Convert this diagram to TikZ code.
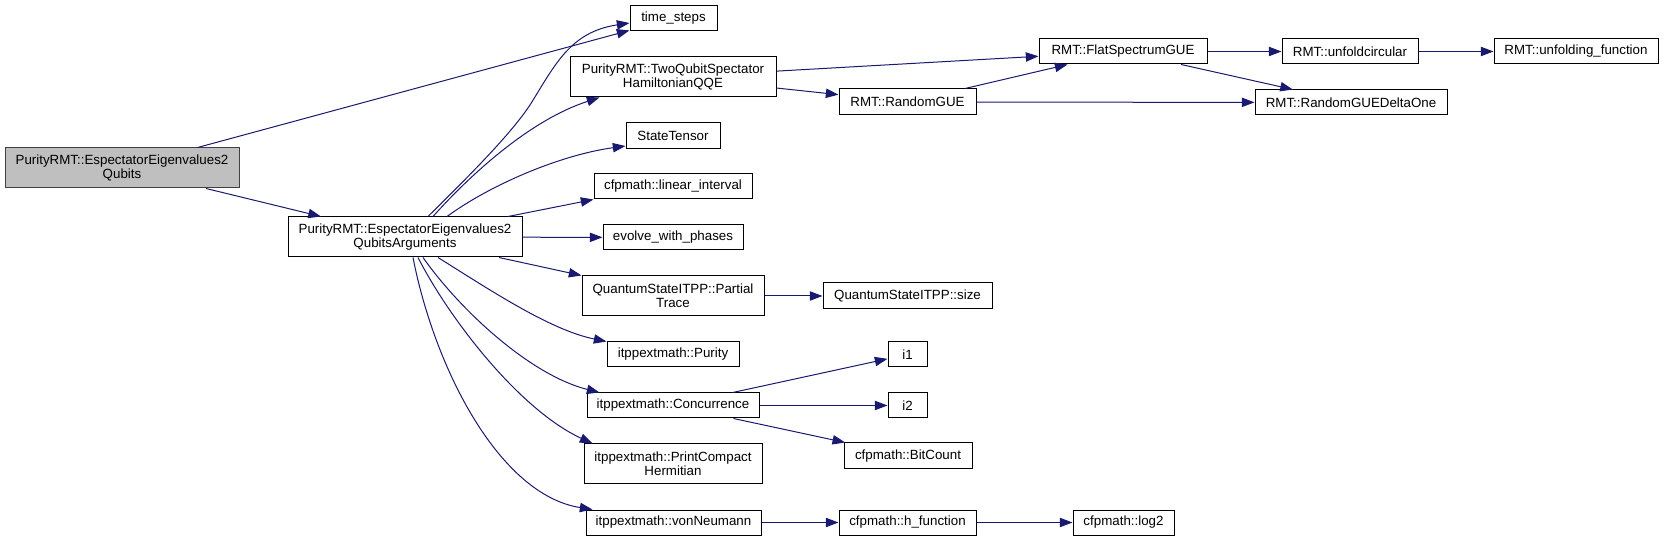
\documentclass[tikz,border=0pt]{standalone}
\usepackage{fontspec}
\setmainfont{Liberation Sans}
\usetikzlibrary{arrows.meta,calc}
\definecolor{edgeblue}{HTML}{191970}
\definecolor{rootfill}{HTML}{BFBFBF}
\definecolor{rootline}{HTML}{404040}
\tikzset{
  box/.style n args={4}{draw=black, line width=0.75pt, fill=white, inner sep=0pt,
    align=center, font=\fontsize{10}{10.7}\selectfont,
    minimum width={(#2-#1)*0.75pt}, minimum height={(#4-#3)*0.75pt},
    at={({(#1+#2)/2},{(#3+#4)/2})}},
  rootbox/.style={fill=rootfill, draw=rootline},
  edge/.style={draw=edgeblue, line width=0.75pt,
    -{Triangle[length=9.5pt,width=7pt,fill=edgeblue]}}
}
\begin{document}
\begin{tikzpicture}[x=0.75pt,y=-0.75pt]
\useasboundingbox (0,0) rectangle (1664,541);
% nodes
\node[box={5}{239}{148}{188},rootbox] (root) {PurityRMT::EspectatorEigenvalues2\\Qubits};
\node[box={288}{522}{217}{257}] (args) {PurityRMT::EspectatorEigenvalues2\\QubitsArguments};
\node[box={630}{717}{6}{31}] (time) {time\_steps};
\node[box={570}{776}{57}{97}] (tq) {PurityRMT::TwoQubitSpectator\\HamiltonianQQE};
\node[box={626}{720}{123}{149}] (st) {StateTensor};
\node[box={594}{752}{174}{199}] (lin) {cfpmath::linear\_interval};
\node[box={603}{743}{225}{250}] (evo) {evolve\_with\_phases};
\node[box={582}{764}{276}{316}] (pt) {QuantumStateITPP::Partial\\Trace};
\node[box={607}{739}{342}{367}] (pur) {itppextmath::Purity};
\node[box={587}{759}{393}{418}] (conc) {itppextmath::Concurrence};
\node[box={584}{762}{444}{484}] (pc) {itppextmath::PrintCompact\\Hermitian};
\node[box={586}{761}{510}{535}] (vn) {itppextmath::vonNeumann};
\node[box={839}{976}{89}{115}] (rg) {RMT::RandomGUE};
\node[box={1039}{1207}{39}{64}] (flat) {RMT::FlatSpectrumGUE};
\node[box={1282}{1418}{39}{64}] (unf) {RMT::unfoldcircular};
\node[box={1494}{1658}{39}{64}] (unff) {RMT::unfolding\_function};
\node[box={1255}{1447}{90}{115}] (rgdo) {RMT::RandomGUEDeltaOne};
\node[box={823}{992}{283}{309}] (size) {QuantumStateITPP::size};
\node[box={888}{927}{342}{367}] (i1) {i1};
\node[box={888}{927}{393}{418}] (i2) {i2};
\node[box={844}{972}{443}{469}] (bc) {cfpmath::BitCount};
\node[box={839}{976}{510}{535}] (hf) {cfpmath::h\_function};
\node[box={1073}{1174}{510}{535}] (log) {cfpmath::log2};
% edges
\draw[edge] (root) -- (time);
\draw[edge] (root) -- (args);
\draw[edge] ($(args.north)+(23,0)$) .. controls (470,175) and (510,135) .. (530,105)
  .. controls (555,65) and (570,32) .. ($(time.west)+(0,4.5)$);
\draw[edge] ($(args.north)+(28,0)$) .. controls (470,175) and (530,120) .. ($(tq.south west)+(30,0)$);
\draw[edge] ($(args.north)+(42,0)$) .. controls (490,185) and (560,155) .. ($(st.west)+(0,10)$);
\draw[edge] (args) -- (lin.south west);
\draw[edge] (args) -- (evo);
\draw[edge] (args) -- (pt.north west);
\draw[edge] ($(args.south)+(33,0)$) .. controls (490,290) and (550,330) .. (pur.north west);
\draw[edge] ($(args.south)+(18,0)$) .. controls (460,310) and (530,375) .. ($(conc.north west)+(13,0)$);
\draw[edge] ($(args.south)+(13,0)$) .. controls (450,320) and (520,410) .. ($(pc.north west)+(9,0)$);
\draw[edge] ($(args.south)+(8,0)$) .. controls (435,370) and (500,495) .. ($(vn.north west)+(7,0)$);
\draw[edge] (tq) -- (flat);
\draw[edge] (tq) -- (rg);
\draw[edge] (rg) -- (flat);
\draw[edge] (rg) -- (rgdo);
\draw[edge] (flat) -- (unf);
\draw[edge] (flat) -- (rgdo);
\draw[edge] (unf) -- (unff);
\draw[edge] (pt) -- (size);
\draw[edge] (conc) -- (i1);
\draw[edge] (conc) -- (i2);
\draw[edge] (conc) -- (bc);
\draw[edge] (vn) -- (hf);
\draw[edge] (hf) -- (log);
\end{tikzpicture}
\end{document}
